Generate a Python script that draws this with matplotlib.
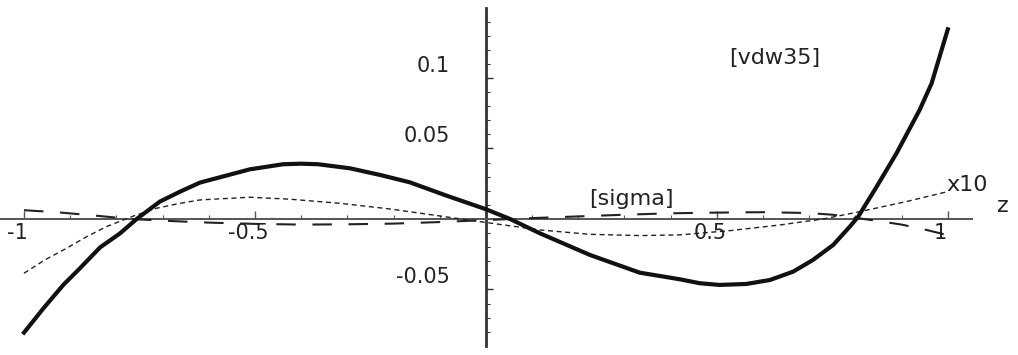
import matplotlib
matplotlib.use("Agg")
import matplotlib.pyplot as plt
from matplotlib.transforms import ScaledTranslation

# ---- data ----
vdw_x = [-1.0, -0.958, -0.915, -0.879, -0.835, -0.792, -0.756, -0.706, -0.662, -0.619,
         -0.511, -0.439, -0.40, -0.363, -0.294, -0.229, -0.165, -0.085, 0.0, 0.052,
         0.117, 0.225, 0.333, 0.42, 0.463, 0.506, 0.564, 0.615, 0.665, 0.708,
         0.752, 0.788, 0.806, 0.846, 0.889, 0.939, 0.965, 1.0]
vdw_y = [-0.0806, -0.0634, -0.0468, -0.035, -0.0201, -0.0102, 0.0, 0.0123, 0.0194, 0.0258,
         0.0352, 0.0388, 0.0392, 0.0388, 0.0359, 0.0312, 0.026, 0.0165, 0.0069, 0.0,
         -0.0102, -0.0255, -0.0381, -0.0428, -0.0456, -0.0468, -0.0461, -0.0433, -0.0374, -0.0291,
         -0.0184, -0.0054, 0.0016, 0.0229, 0.0466, 0.0773, 0.0962, 0.1345]

x10_x = [-1.0, -0.955, -0.908, -0.864, -0.821, -0.763, -0.713, -0.662, -0.619, -0.511,
         -0.424, -0.316, -0.208, -0.0996, 0.0, 0.117, 0.225, 0.333, 0.42, 0.528,
         0.636, 0.73, 0.80, 0.91, 1.0]
x10_y = [-0.0385, -0.0291, -0.0208, -0.0125, -0.0054, 0.0021, 0.0076, 0.0111, 0.0135, 0.0154,
         0.014, 0.0111, 0.0071, 0.0021, -0.0025, -0.0078, -0.0109, -0.0118, -0.0113, -0.0083,
         -0.0043, 0.0, 0.0045, 0.0123, 0.0194]

sigma_x = [-1.0, -0.93, -0.84, -0.77, -0.68, -0.6, -0.5, -0.4, -0.3, -0.2, -0.1, 0.0,
           0.1, 0.2, 0.3, 0.4, 0.5, 0.6, 0.7, 0.75, 0.8, 0.85, 0.9, 0.95, 1.0]
sigma_y = [0.0062, 0.0048, 0.0022, 0.0, -0.0015, -0.0026, -0.0035, -0.004, -0.0038, -0.0033,
           -0.0022, -0.0008, 0.0006, 0.0018, 0.003, 0.004, 0.0045, 0.0048, 0.0042, 0.003,
           0.0008, -0.0015, -0.004, -0.0075, -0.0115]

xtick_vals = [-1, -0.5, 0.5, 1]
xtick_labels = ["-1", "-0.5", "0.5", "1"]
ytick_vals = [-0.05, 0.05, 0.1]
ytick_labels = ["-0.05", "0.05", "0.1"]
xminor_vals = [-1.0, -0.9, -0.8, -0.7, -0.6, -0.5, -0.4, -0.3, -0.2, -0.1,
               0.1, 0.2, 0.3, 0.4, 0.5, 0.6, 0.7, 0.8, 0.9, 1.0]
yminor_vals = [-0.08, -0.07, -0.06, -0.05, -0.04, -0.03, -0.02, -0.01,
               0.01, 0.02, 0.03, 0.04, 0.05, 0.06, 0.07, 0.08, 0.09, 0.1,
               0.11, 0.12, 0.13, 0.14]

plt.rcParams["font.family"] = ["DejaVu Sans"]
plt.rcParams["lines.scale_dashes"] = False

fig = plt.figure(figsize=(10.18, 3.55), dpi=100)
ax = fig.add_axes([0, 0, 1, 1])
ax.set_xlim(-1.052, 1.152)
ax.set_ylim(-0.0965, 0.1553)

ax.plot(vdw_x, vdw_y, color="#111111", lw=3.0, solid_joinstyle="round", zorder=4)
ax.plot(x10_x, x10_y, color="#222222", lw=1.0, dashes=(3.6, 2.6), zorder=3)
ax.plot(sigma_x, sigma_y, color="#222222", lw=1.5, dashes=(14, 12), zorder=3)

for s in ["top", "right"]:
    ax.spines[s].set_visible(False)
ax.spines["left"].set_position(("data", 0))
ax.spines["bottom"].set_position(("data", 0))
ax.spines["left"].set_bounds(-0.090, 0.1497)
ax.spines["bottom"].set_bounds(-1.052, 1.052)
ax.spines["left"].set_linewidth(2.0)
ax.spines["left"].set_color("#333333")
ax.spines["bottom"].set_linewidth(1.4)
ax.spines["bottom"].set_color("#555555")

ax.set_xticks(xtick_vals)
ax.set_xticklabels(xtick_labels)
ax.set_xticks(xminor_vals, minor=True)
ax.set_yticks(ytick_vals)
ax.set_yticklabels(ytick_labels)
ax.set_yticks(yminor_vals, minor=True)

ax.tick_params(axis="x", which="major", direction="in", length=6, width=1.0,
               color="#555555", pad=3, labelsize=15, labelcolor="#222222")
ax.tick_params(axis="x", which="minor", direction="in", length=3, width=0.8, color="#555555")
ax.tick_params(axis="y", which="major", direction="in", length=5, width=1.0,
               color="#333333", pad=26, labelsize=15, labelcolor="#222222")
ax.tick_params(axis="y", which="minor", direction="in", length=3, width=0.8, color="#333333")

for t in ax.xaxis.get_major_ticks():
    t.label1.set_transform(t.label1.get_transform() + ScaledTranslation(-0.07, 0, fig.dpi_scale_trans))
for t in ax.yaxis.get_major_ticks():
    t.label1.set_transform(t.label1.get_transform() + ScaledTranslation(0, 0.14, fig.dpi_scale_trans))

tkw = dict(fontsize=16, color="#222222", ha="center", va="center")
ax.text(0.6255, 0.1142, "[vdw35]", **tkw)
ax.text(0.316, 0.0142, "[sigma]", **tkw)
ax.text(1.041, 0.0241, "x10", **tkw)
ax.text(1.119, 0.0092, "z", **tkw)

fig.savefig("out.png", dpi=100)
